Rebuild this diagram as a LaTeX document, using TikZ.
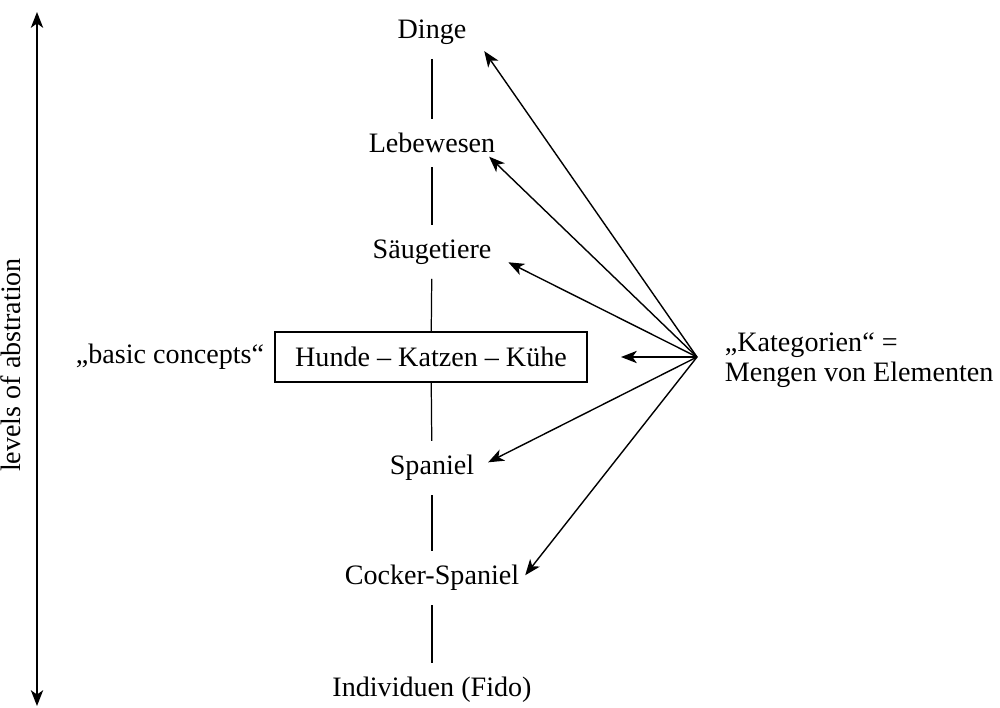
\documentclass[tikz,border=0pt]{standalone}
\usepackage{fontspec}
\setmainfont{Liberation Serif}
\usepackage{tikz}
\usetikzlibrary{arrows.meta,calc}
\tikzset{
  lvl/.style={font=\fontsize{16}{17}\selectfont,inner sep=2pt},
  link/.style={line width=0.7pt,shorten <=6pt,shorten >=6pt},
  cat/.style={->,line width=0.8pt,shorten >=2pt}
}

\begin{document}
\begin{tikzpicture}[>={Stealth[length=9pt,width=7pt,inset=2.5pt]}]
\useasboundingbox (0,0) rectangle (20,-14.14);
% levels axis
\draw[<->,line width=1pt] (0.74,-0.24)--(0.74,-14.12);
\node[lvl,rotate=90] (axis) at (0.22,-7.3){levels of abstration};
% hierarchy
\node[lvl] (dinge) at (8.64,-0.64){Dinge};
\node[lvl] (lebe) at (8.64,-2.86){Lebewesen};
\node[lvl] (saeuge) at (8.64,-5.04){Säugetiere};
\node[lvl,draw,line width=0.7pt,minimum width=6.24cm,minimum height=1cm] (basic) at (8.62,-7.14){Hunde -- Katzen -- Kühe};
\node[lvl] (spaniel) at (8.64,-9.36){Spaniel};
\node[lvl] (cocker) at (8.64,-11.56){Cocker-Spaniel};
\node[lvl] (indiv) at (8.64,-13.8){Individuen (Fido)};
\draw[link] (dinge)--(lebe); \draw[link] (lebe)--(saeuge);
\draw[link,shorten >=0pt] (saeuge)--(basic); \draw[link,shorten <=0pt] (basic)--(spaniel);
\draw[link] (spaniel)--(cocker); \draw[link] (cocker)--(indiv);
\node[lvl] (bc) at (3.4,-7.14){„basic concepts“};
% categories
\coordinate (hub) at (13.94,-7.14);
\node[lvl,anchor=west,align=left] (kat) at (14.42,-7.2){„Kategorien“ =\\Mengen von Elementen};
\draw[cat] (hub)--($(dinge.south east)+(0.24,0)$);
\draw[cat] (hub)--($(lebe.south east)+(-0.25,0.05)$);
\draw[cat] (hub)--($(saeuge.south east)+(0.2,0.15)$);
\draw[cat,shorten >=19pt] (hub)--(basic.east);
\draw[cat] (hub)--($(spaniel.north east)+(0.14,-0.25)$);
\draw[cat] (hub)--(cocker.east);
\end{tikzpicture}
\end{document}
